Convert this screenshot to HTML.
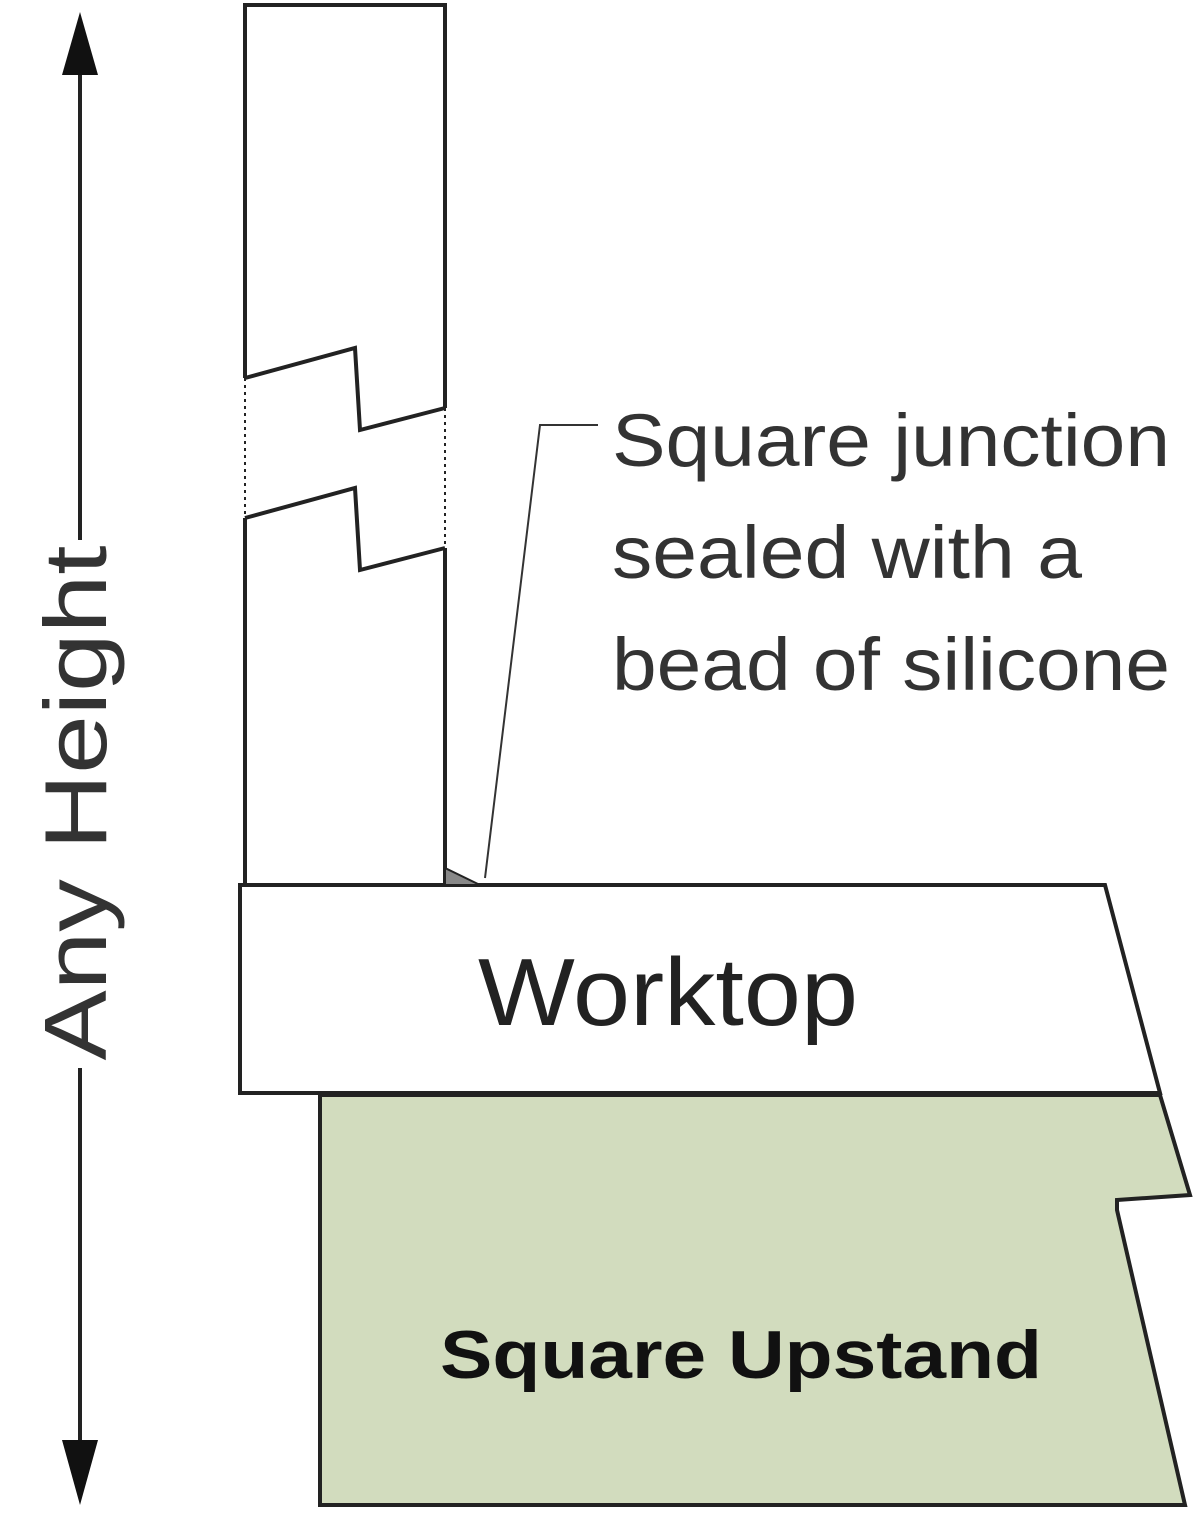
<!DOCTYPE html>
<html><head><meta charset="utf-8"><style>
html,body{margin:0;padding:0;background:#fff;}
svg{display:block;}
</style></head><body>
<svg width="1200" height="1517" viewBox="0 0 1200 1517" xmlns="http://www.w3.org/2000/svg" font-family="Liberation Sans, sans-serif">
<line x1="80" y1="60" x2="80" y2="540" stroke="#222" stroke-width="4"/>
<line x1="80" y1="1068" x2="80" y2="1450" stroke="#222" stroke-width="4"/>
<polygon points="80,12 62,75 98,75" fill="#111"/>
<polygon points="80,1505 62,1440 98,1440" fill="#111"/>
<text x="0" y="0" transform="translate(106,803) rotate(-90)" font-size="88" fill="#333" text-anchor="middle" textLength="515" lengthAdjust="spacingAndGlyphs">Any Height</text>
<g stroke="#222" stroke-width="4" fill="none">
<polyline points="245,378 245,5 445,5 445,408"/>
<polyline points="245,518 245,890"/>
<polyline points="445,548 445,885"/>
<polyline points="245,378 355,348 360,430 445,408"/>
<polyline points="245,518 355,488 360,570 445,548"/>
<line x1="245" y1="378" x2="245" y2="518" stroke-dasharray="3,4" stroke-width="2"/>
<line x1="445" y1="408" x2="445" y2="548" stroke-dasharray="3,4" stroke-width="2"/>
</g>
<polygon points="240,885 1105,885 1160,1093 240,1093" fill="#fff" stroke="#222" stroke-width="4"/>
<polygon points="445,885 445,868 480,885" fill="#888" stroke="#222" stroke-width="2"/>
<text x="478" y="1025" font-size="96" fill="#222" textLength="380" lengthAdjust="spacingAndGlyphs">Worktop</text>
<polygon points="320,1095 1160,1095 1190,1195 1117,1200 1117,1210 1185,1505 320,1505" fill="#d2dcbe" stroke="#222" stroke-width="4"/>
<text x="440" y="1378" font-size="68" font-weight="bold" fill="#111" textLength="602" lengthAdjust="spacingAndGlyphs">Square Upstand</text>
<polyline points="598,425 540,425 485,878" fill="none" stroke="#333" stroke-width="2"/>
<g font-size="74" fill="#333">
<text x="612" y="466" textLength="558" lengthAdjust="spacingAndGlyphs">Square junction</text>
<text x="612" y="578" textLength="470" lengthAdjust="spacingAndGlyphs">sealed with a</text>
<text x="612" y="690" textLength="558" lengthAdjust="spacingAndGlyphs">bead of silicone</text>
</g>
</svg>
</body></html>
